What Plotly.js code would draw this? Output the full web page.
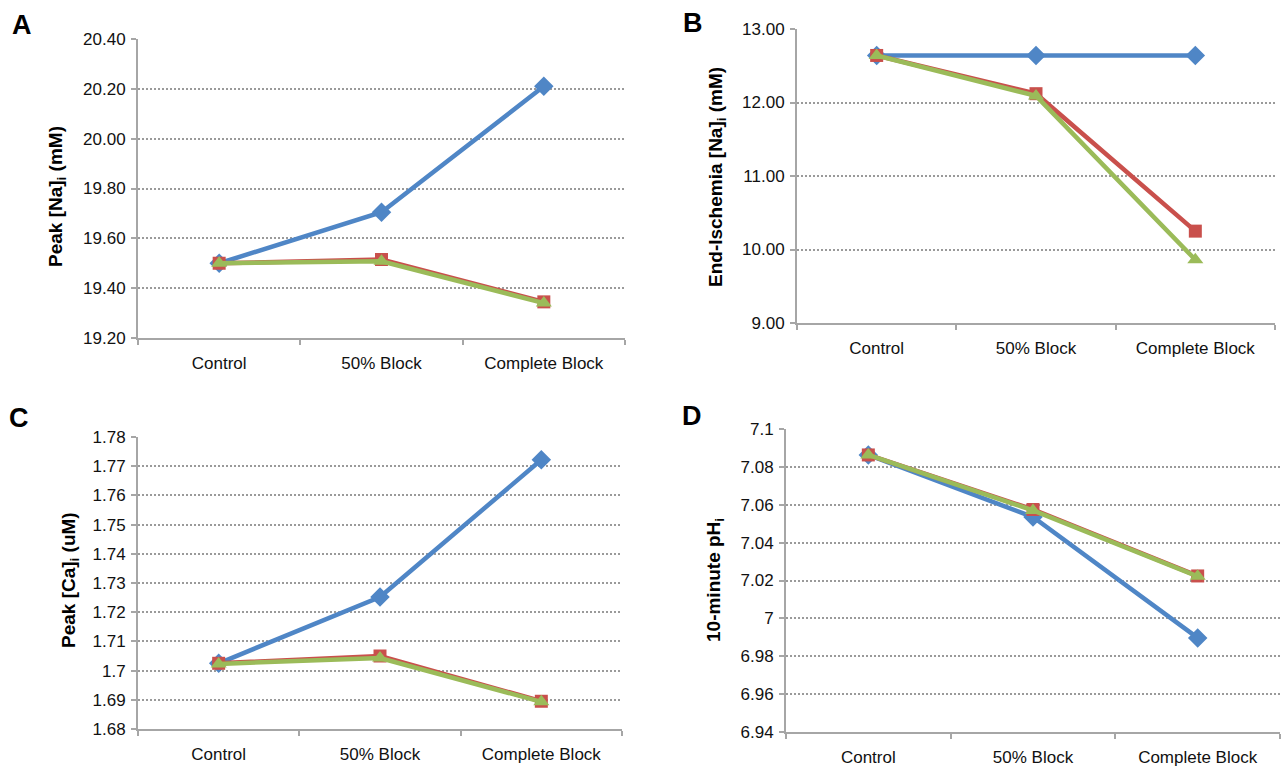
<!DOCTYPE html>
<html>
<head>
<meta charset="utf-8">
<script src="https://cdn.plot.ly/plotly-3.0.1.min.js"></script>
<style>html,body{margin:0;padding:0;background:#fff;}#chart{width:1284px;height:768px;}</style>
</head>
<body>
<div id="chart"></div>
<script>
const categories = ["Control", "50% Block", "Complete Block"];

// Panel A: Peak [Na]i (mM)
const naPeakBlue  = [19.50, 19.705, 20.21];
const naPeakRed   = [19.50, 19.515, 19.345];
const naPeakGreen = [19.50, 19.508, 19.340];

// Panel B: End-Ischemia [Na]i (mM)
const naEndBlue  = [12.64, 12.64, 12.64];
const naEndRed   = [12.64, 12.12, 10.25];
const naEndGreen = [12.64, 12.09, 9.86];

// Panel C: Peak [Ca]i (uM)
const caPeakBlue  = [1.7025, 1.7252, 1.7722];
const caPeakRed   = [1.7025, 1.7050, 1.6895];
const caPeakGreen = [1.7023, 1.7043, 1.6893];

// Panel D: 10-minute pHi
const phBlue  = [7.0863, 7.0535, 6.9897];
const phRed   = [7.0863, 7.0575, 7.0224];
const phGreen = [7.0863, 7.0570, 7.0222];

const panelLabels = ["A", "B", "C", "D"];
const yTitles = ["Peak [Na]<sub>i</sub> (mM)", "End-Ischemia [Na]<sub>i</sub> (mM)", "Peak [Ca]<sub>i</sub> (uM)", "10-minute pH<sub>i</sub>"];

const BLUE = "#4f86c6", RED = "#c9504c", GREEN = "#9bbb59";
const W = 1284, H = 768;

function tr(y, color, symbol, size, xa, ya) {
  return {
    x: categories, y: y, type: "scatter", mode: "lines+markers",
    line: {color: color, width: 4.5},
    marker: {color: color, symbol: symbol, size: size},
    xaxis: xa, yaxis: ya, showlegend: false, hoverinfo: "x+y"
  };
}

const data = [
  tr(naPeakBlue, BLUE, "diamond", 15, "x", "y"),
  tr(naPeakRed, RED, "square", 13, "x", "y"),
  tr(naPeakGreen, GREEN, "triangle-up", 14, "x", "y"),
  tr(naEndBlue, BLUE, "diamond", 15, "x2", "y2"),
  tr(naEndRed, RED, "square", 13, "x2", "y2"),
  tr(naEndGreen, GREEN, "triangle-up", 14, "x2", "y2"),
  tr(caPeakBlue, BLUE, "diamond", 15, "x3", "y3"),
  tr(caPeakRed, RED, "square", 13, "x3", "y3"),
  tr(caPeakGreen, GREEN, "triangle-up", 14, "x3", "y3"),
  tr(phBlue, BLUE, "diamond", 15, "x4", "y4"),
  tr(phRed, RED, "square", 13, "x4", "y4"),
  tr(phGreen, GREEN, "triangle-up", 14, "x4", "y4")
];

const FONT = "Liberation Sans, Arial, Helvetica, sans-serif";
const AXC = "#a6a6a6";

function xax(x0, x1, anchor) {
  return {
    domain: [x0 / W, x1 / W], anchor: anchor, type: "category",
    range: [-0.5, 2.5], showgrid: false, zeroline: false,
    showline: true, linecolor: AXC, linewidth: 2,
    ticks: "outside", tickson: "boundaries", ticklen: 5, tickcolor: AXC, tickwidth: 2,
    ticklabelstandoff: 9,
    tickfont: {family: FONT, size: 17, color: "#111"}, fixedrange: true
  };
}
function yax(top, bottom, anchor, range, dtick, fmt) {
  return {
    domain: [1 - bottom / H, 1 - top / H], anchor: anchor,
    range: range, dtick: dtick, tick0: range[0], tickformat: fmt,
    showgrid: true, gridcolor: "#9a9a9a", griddash: "2px,2px", gridwidth: 2,
    zeroline: false, showline: true, linecolor: AXC, linewidth: 2,
    ticks: "outside", ticklen: 5, tickcolor: AXC, tickwidth: 2,
    ticklabelstandoff: 2,
    tickfont: {family: FONT, size: 17, color: "#111"},
    fixedrange: true
  };
}

const letterAnn = [
  {x: 10 / W, y: 1 - 8 / H, text: "<b>" + panelLabels[0] + "</b>"},
  {x: 681 / W, y: 1 - 6 / H, text: "<b>" + panelLabels[1] + "</b>"},
  {x: 7 / W, y: 1 - 401 / H, text: "<b>" + panelLabels[2] + "</b>"},
  {x: 680 / W, y: 1 - 399 / H, text: "<b>" + panelLabels[3] + "</b>"}
].map(a => Object.assign(a, {xref: "paper", yref: "paper", xanchor: "left", yanchor: "top", showarrow: false,
  font: {family: FONT, size: 27, color: "#000"}}));

const titleAnn = [
  {x: 57 / W, y: 1 - 197 / H, text: "<b>" + yTitles[0] + "</b>"},
  {x: 717 / W, y: 1 - 177 / H, text: "<b>" + yTitles[1] + "</b>"},
  {x: 70 / W, y: 1 - 580 / H, text: "<b>" + yTitles[2] + "</b>"},
  {x: 715 / W, y: 1 - 580 / H, text: "<b>" + yTitles[3] + "</b>"}
].map(a => Object.assign(a, {xref: "paper", yref: "paper", xanchor: "center", yanchor: "middle", showarrow: false,
  textangle: -90, font: {family: FONT, size: 19, color: "#000"}}));

const layout = {
  width: W, height: H,
  margin: {l: 0, r: 0, t: 0, b: 0},
  paper_bgcolor: "#fff", plot_bgcolor: "#fff",
  xaxis: xax(138, 625, "y"),
  yaxis: yax(39, 338, "x", [19.2, 20.4], 0.2, ".2f"),
  xaxis2: xax(797, 1275, "y2"),
  yaxis2: yax(29, 323, "x2", [9, 13], 1, ".2f"),
  xaxis3: xax(138, 622, "y3"),
  yaxis3: yax(437, 729, "x3", [1.68, 1.78], 0.01, ""),
  xaxis4: xax(786, 1280, "y4"),
  yaxis4: yax(429, 732, "x4", [6.94, 7.1], 0.02, ""),
  annotations: letterAnn.concat(titleAnn)
};

Plotly.newPlot("chart", data, layout, {displayModeBar: false, staticPlot: true});
</script>
</body>
</html>
